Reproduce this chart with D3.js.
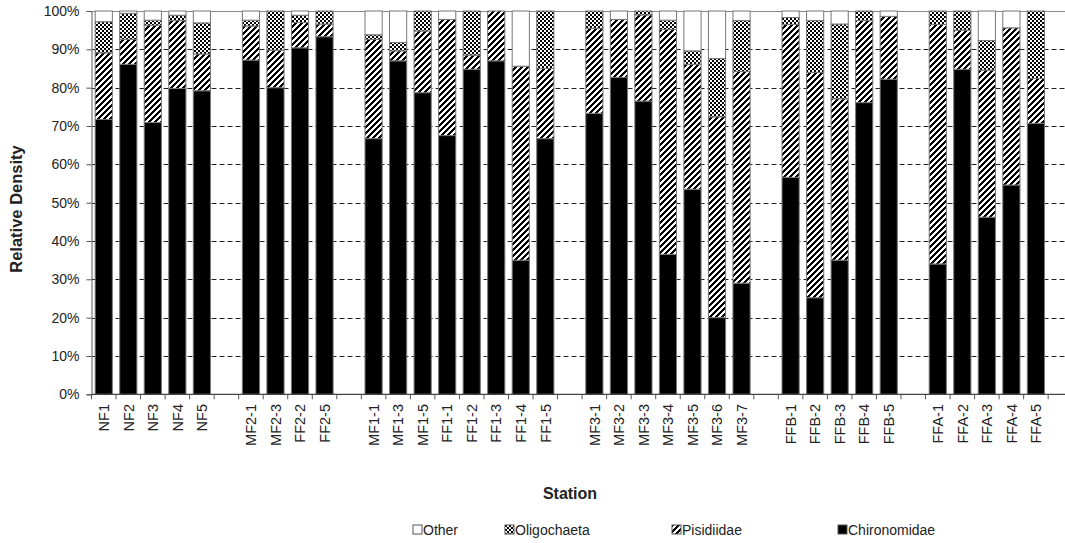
<!DOCTYPE html>
<html>
<head>
<meta charset="utf-8">
<script src="https://cdn.jsdelivr.net/npm/d3@7"></script>
<style>
  html, body { margin: 0; padding: 0; background: #fff; }
  svg { display: block; font-family: "Liberation Sans", Arial, sans-serif; }
</style>
</head>
<body>
<svg id="chart" width="1065" height="543"></svg>
<script>
// Stations in plotting order; "" marks an empty spacer slot between site groups
const stations = [
  "NF1", "NF2", "NF3", "NF4", "NF5", "",
  "MF2-1", "MF2-3", "FF2-2", "FF2-5", "",
  "MF1-1", "MF1-3", "MF1-5", "FF1-1", "FF1-2", "FF1-3", "FF1-4", "FF1-5", "",
  "MF3-1", "MF3-2", "MF3-3", "MF3-4", "MF3-5", "MF3-6", "MF3-7", "",
  "FFB-1", "FFB-2", "FFB-3", "FFB-4", "FFB-5", "",
  "FFA-1", "FFA-2", "FFA-3", "FFA-4", "FFA-5", ""
];

// Relative density (%) of each taxon per station (null for spacer slots)
const chironomidae = [71.7, 86.1, 70.9, 79.8, 79.2, null,
  87.2, 80.0, 90.4, 93.3, null,
  66.7, 87.0, 78.7, 67.5, 84.8, 87.0, 35.0, 66.7, null,
  73.3, 82.7, 76.5, 36.5, 53.5, 20.0, 29.0, null,
  56.6, 25.2, 35.0, 76.1, 82.2, null,
  34.0, 84.8, 46.2, 54.6, 70.7, null];
const pisidiidae = [17.4, 6.5, 25.4, 17.7, 9.6, null,
  8.9, 9.8, 6.6, 3.3, null,
  25.9, 2.6, 16.1, 30.3, 3.7, 13.0, 50.6, 18.3, null,
  22.2, 15.1, 22.5, 58.7, 32.6, 52.4, 55.2, null,
  39.9, 58.8, 42.1, 21.4, 16.4, null,
  62.5, 10.2, 38.4, 41.0, 11.7, null];
const oligochaeta = [8.1, 6.8, 1.3, 1.4, 8.1, null,
  1.5, 10.2, 1.9, 3.4, null,
  1.2, 2.2, 5.2, 0.0, 11.5, 0.0, 0.0, 15.0, null,
  4.5, 0.0, 1.0, 2.4, 3.5, 15.2, 13.3, null,
  1.8, 13.5, 19.5, 2.5, 0.0, null,
  3.5, 5.0, 7.7, 0.0, 17.6, null];
const other = [2.8, 0.6, 2.4, 1.1, 3.1, null,
  2.4, 0.0, 1.1, 0.0, null,
  6.2, 8.2, 0.0, 2.2, 0.0, 0.0, 14.4, 0.0, null,
  0.0, 2.2, 0.0, 2.4, 10.4, 12.4, 2.5, null,
  1.7, 2.5, 3.4, 0.0, 1.4, null,
  0.0, 0.0, 7.7, 4.4, 0.0, null];

const taxa = ["Chironomidae", "Pisidiidae", "Oligochaeta", "Other"];
const legendOrder = ["Other", "Oligochaeta", "Pisidiidae", "Chironomidae"];
const yTicks = [0, 10, 20, 30, 40, 50, 60, 70, 80, 90, 100];

const svg = d3.select("#chart");
const slotKeys = stations.map((s, i) => s || "gap" + i);

// Fill patterns: fine checkerboard and pixel-aligned forward-slash stripes
const defs = svg.append("defs");
const checker = defs.append("pattern").attr("id", "pat-oligo")
  .attr("patternUnits", "userSpaceOnUse").attr("width", 4).attr("height", 4);
checker.append("rect").attr("width", 4).attr("height", 4).attr("fill", "#fff");
checker.append("rect").attr("width", 2).attr("height", 2).attr("fill", "#000");
checker.append("rect").attr("x", 2).attr("y", 2).attr("width", 2).attr("height", 2).attr("fill", "#000");

const P = 6;
const stripes = defs.append("pattern").attr("id", "pat-pisid")
  .attr("patternUnits", "userSpaceOnUse").attr("width", P).attr("height", P);
stripes.append("rect").attr("width", P).attr("height", P).attr("fill", "#fff");
const stripeCells = [];
for (let r = 0; r < P; r++) {
  for (let k = 0; k < 3; k++) stripeCells.push({ r, c: (P - 1 - r + k) % P });
}
stripes.selectAll("rect.px").data(stripeCells).join("rect").attr("class", "px")
  .attr("x", d => d.c).attr("y", d => d.r).attr("width", 1).attr("height", 1)
  .attr("fill", "#000").attr("shape-rendering", "crispEdges");

const fills = {
  Chironomidae: "#000",
  Pisidiidae: "url(#pat-pisid)",
  Oligochaeta: "url(#pat-oligo)",
  Other: "#fff"
};

// Scales
const left = 91.5, slotW = 24.53;
const x = d3.scaleBand().domain(slotKeys)
  .range([left, left + slotKeys.length * slotW]).paddingInner(0.3).paddingOuter(0.15);
const y = d3.scaleLinear().domain([0, 100]).range([394.3, 11]);

// Gridlines
svg.append("g").selectAll("line").data(yTicks.filter(t => t > 0 && t < 100)).join("line")
  .attr("x1", left).attr("x2", 1065)
  .attr("y1", d => Math.round(y(d)) + 0.5).attr("y2", d => Math.round(y(d)) + 0.5)
  .attr("stroke", "#222").attr("stroke-width", 1).attr("stroke-dasharray", "5,3");

// Top border of plot area
svg.append("line").attr("x1", left).attr("x2", 1065)
  .attr("y1", Math.round(y(100)) + 0.5).attr("y2", Math.round(y(100)) + 0.5)
  .attr("stroke", "#888").attr("stroke-width", 1.2);

// Stacked bars
const rows = stations.map((s, i) => ({
  key: slotKeys[i],
  Chironomidae: chironomidae[i], Pisidiidae: pisidiidae[i],
  Oligochaeta: oligochaeta[i], Other: other[i]
})).filter(r => r.Chironomidae !== null);

const series = d3.stack().keys(taxa)(rows);
svg.append("g").selectAll("g").data(series).join("g")
  .attr("fill", d => fills[d.key])
  .selectAll("rect").data(d => d.filter(p => p[1] - p[0] > 0)).join("rect")
  .attr("x", d => x(d.data.key))
  .attr("width", x.bandwidth())
  .attr("y", d => y(d[1]))
  .attr("height", d => y(d[0]) - y(d[1]))
  .attr("stroke", "#777").attr("stroke-width", 1);

// Y axis
const yAxis = d3.axisLeft(y).tickValues(yTicks).tickSize(5).tickPadding(7)
  .tickFormat(d => d + "%");
const gy = svg.append("g").attr("transform", `translate(${left},0)`).call(yAxis);
gy.select(".domain").attr("stroke", "#777").attr("stroke-width", 1.2);
gy.selectAll(".tick line").attr("stroke", "#555");
gy.selectAll("text").attr("font-size", 14).attr("fill", "#222")
  .attr("font-family", "'Liberation Sans', Arial, sans-serif");

// X axis: line, boundary ticks and rotated station labels
const gx = svg.append("g");
gx.append("line").attr("x1", left).attr("x2", 1065)
  .attr("y1", y(0)).attr("y2", y(0)).attr("stroke", "#444").attr("stroke-width", 1.2);
const bounds = d3.range(slotKeys.length + 1).map(i => left + i * slotW);
gx.selectAll("line.tk").data(bounds).join("line").attr("class", "tk")
  .attr("x1", d => d).attr("x2", d => d)
  .attr("y1", y(0)).attr("y2", y(0) + 5).attr("stroke", "#555");
gx.selectAll("text").data(stations.map((s, i) => ({ s, k: slotKeys[i] })).filter(d => d.s))
  .join("text")
  .attr("transform", d => `translate(${x(d.k) + x.bandwidth() / 2},404) rotate(-90)`)
  .attr("text-anchor", "end").attr("dy", "0.36em")
  .attr("font-size", 14.5).attr("fill", "#222")
  .text(d => d.s);

// Axis titles
svg.append("text").attr("transform", "translate(22,209) rotate(-90)")
  .attr("text-anchor", "middle").attr("font-size", 16.5).attr("font-weight", "bold")
  .attr("fill", "#222").text("Relative Density");
svg.append("text").attr("x", 570).attr("y", 499)
  .attr("text-anchor", "middle").attr("font-size", 16).attr("font-weight", "bold")
  .attr("fill", "#222").text("Station");

// Legend
const legendX = { Other: 413, Oligochaeta: 505, Pisidiidae: 672, Chironomidae: 838 };
const lg = svg.append("g").selectAll("g").data(legendOrder).join("g")
  .attr("transform", d => `translate(${legendX[d]},525)`);
lg.append("rect").attr("width", 9).attr("height", 9)
  .attr("fill", d => fills[d]).attr("stroke", "#555").attr("stroke-width", 1);
lg.append("text").attr("x", 10).attr("y", 10)
  .attr("font-size", 14).attr("fill", "#222").text(d => d);
</script>
</body>
</html>
